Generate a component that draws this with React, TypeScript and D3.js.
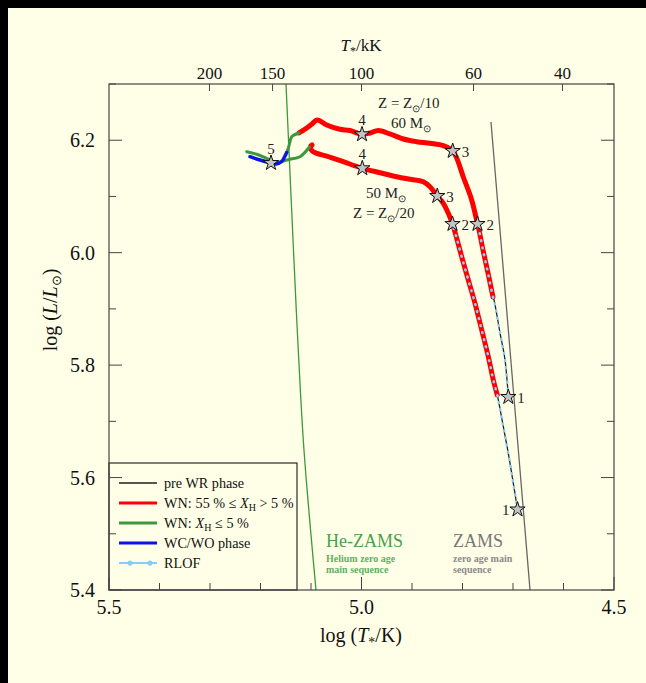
import React from "react";
import * as d3 from "d3";

type P = [number, number];

// ---- axis ticks ----
const xMajor = [5.5, 5.0, 4.5];
const xMinor = [5.4, 5.3, 5.2, 5.1, 4.9, 4.8, 4.7, 4.6];
const yMajor = [6.2, 6.0, 5.8, 5.6, 5.4];
const yMinor = [6.3, 6.1, 5.9, 5.7, 5.5];
const topTicksKK = [200, 150, 100, 60, 40];

// ---- reference lines ----
const zams: P[] = [[4.7436, 6.2324], [4.6663, 5.4]];
const heZams: P[] = [[5.1495, 6.3], [5.1356, 6.0226], [5.1257, 5.8358], [5.1139, 5.649], [5.0901, 5.4]];

// ---- 60 Msun, Z = Zsun/10 ----
const preWR60: P[] = [[4.7093, 5.7433], [4.7158, 5.8091], [4.7257, 5.8571], [4.7376, 5.9158], [4.7396, 5.9211]];
const red60: P[] = [
  [4.7396, 5.9211], [4.7495, 5.9638], [4.7594, 6.0047], [4.7673, 6.0403], [4.7703, 6.051],
  [4.7818, 6.0937], [4.7984, 6.1346], [4.8115, 6.1684], [4.8194, 6.1808], [4.838, 6.1903],
  [4.8644, 6.1945], [4.8907, 6.1974], [4.9172, 6.2022], [4.9436, 6.2111], [4.9667, 6.2173],
  [4.9832, 6.2129], [4.999, 6.2105], [5.0228, 6.2173], [5.0426, 6.2194], [5.0689, 6.2271],
  [5.0875, 6.236], [5.098, 6.2289], [5.1099, 6.2209], [5.1238, 6.2129],
];
const green60: P[] = [[5.1238, 6.2129], [5.1382, 6.2063], [5.1416, 6.1974], [5.145, 6.1856], [5.1481, 6.1782]];
const blue60: P[] = [[5.1481, 6.1782], [5.1525, 6.1702], [5.158, 6.1622], [5.1693, 6.1577], [5.1792, 6.1595], [5.201, 6.1648], [5.2208, 6.1707]];
const rlof60End = 5; // RLOF lasts up to star 2 (index in red60)

// ---- 50 Msun, Z = Zsun/20 ----
const preWR50: P[] = [[4.6911, 5.5432], [4.6994, 5.5898], [4.7093, 5.6431], [4.7192, 5.6905], [4.7277, 5.7321], [4.7311, 5.7468]];
const red50: P[] = [
  [4.7311, 5.7468], [4.739, 5.7735], [4.7489, 5.815], [4.762, 5.8625], [4.7752, 5.9099],
  [4.7885, 5.9514], [4.8016, 5.9928], [4.8115, 6.0256], [4.8198, 6.051], [4.8281, 6.07],
  [4.838, 6.0878], [4.8499, 6.1008], [4.8644, 6.1173], [4.8776, 6.1262], [4.904, 6.1305],
  [4.9303, 6.1351], [4.9634, 6.1422], [4.9984, 6.1501], [5.036, 6.1618], [5.0689, 6.1719],
  [5.0887, 6.1767], [5.0986, 6.1817], [5.101, 6.1888], [5.098, 6.1915],
];
const green50: P[] = [[5.103, 6.1879], [5.1218, 6.1707], [5.1416, 6.1661], [5.1481, 6.1648], [5.1679, 6.1607], [5.1877, 6.1678], [5.2075, 6.175], [5.2273, 6.1796]];
const rlof50End = 9;

// ---- stars ----
const stars60: { label: string; p: P; pos: string }[] = [
  { label: "1", p: [4.7093, 5.7433], pos: "right" },
  { label: "2", p: [4.7703, 6.051], pos: "right" },
  { label: "3", p: [4.8194, 6.1808], pos: "right" },
  { label: "4", p: [4.999, 6.2105], pos: "top" },
];
const stars50: { label: string; p: P; pos: string }[] = [
  { label: "1", p: [4.6911, 5.5432], pos: "left" },
  { label: "2", p: [4.8198, 6.051], pos: "right" },
  { label: "3", p: [4.8499, 6.1008], pos: "right" },
  { label: "4", p: [4.9984, 6.1501], pos: "top" },
  { label: "5", p: [5.1792, 6.1595], pos: "top" },
];

const legendItems = ["pre WR phase", "WN55", "WNlow", "WC/WO phase", "RLOF"];

const C = {
  bg: "#ffffe8",
  axis: "#444",
  red: "#ff0000",
  green: "#3c983c",
  blue: "#0a14e6",
  lblue: "#88ccf8",
  pre: "#555",
  heText: "#4aa04a",
  zText: "#777",
};

const FONT = "'Liberation Serif', 'Times New Roman', serif";

export default function App() {
  const L = 109, R = 614, T = 84, B = 590;
  const x = d3.scaleLinear().domain([5.5, 4.5]).range([L, R]);
  const y = d3.scaleLinear().domain([5.4, 6.3]).range([B, T]);
  const line = d3.line<P>().x((d) => x(d[0])).y((d) => y(d[1])).curve(d3.curveCatmullRom.alpha(0.5));
  const straight = d3.line<P>().x((d) => x(d[0])).y((d) => y(d[1]));
  const starPath = d3.symbol().type(d3.symbolStar).size(72)() as string;

  const rlof60 = [...preWR60.slice(0, -1), ...red60.slice(0, rlof60End)];
  const rlof50 = [...preWR50.slice(0, -1), ...red50.slice(0, rlof50End)];

  const starLabel = (s: { label: string; p: P; pos: string }, i: number) => {
    const sx = x(s.p[0]), sy = y(s.p[1]);
    let tx = sx + 9, ty = sy + 6, anchor: "start" | "end" | "middle" = "start";
    if (s.pos === "top") { tx = sx; ty = sy - 9; anchor = "middle"; }
    if (s.pos === "left") { tx = sx - 8; ty = sy + 6; anchor = "end"; }
    return (
      <g key={i}>
        <path d={starPath} transform={`translate(${sx},${sy})`} fill="#c4c4c4" stroke="#111" strokeWidth={1} />
        <text x={tx} y={ty} textAnchor={anchor} fontSize={15} fill="#222">{s.label}</text>
      </g>
    );
  };

  const legendY = (i: number) => 483 + i * 20;

  return (
    <svg width={646} height={683} style={{ position: "absolute", left: 0, top: 0 }} fontFamily={FONT}>
      <rect x={0} y={0} width={646} height={683} fill="#000" />
      <rect x={8} y={8} width={638} height={675} fill={C.bg} />
      <defs>
        <clipPath id="plotClip">
          <rect x={L} y={T} width={R - L} height={B - T} />
        </clipPath>
      </defs>

      {/* legend box */}
      <rect x={L} y={463} width={188} height={B - 463} fill={C.bg} stroke="#000" strokeWidth={1} />
      {legendItems.map((k, i) => {
        const yy = legendY(i);
        const col = [C.pre, C.red, C.green, C.blue, C.lblue][i];
        const w = [1.8, 3, 3, 3, 2][i];
        return (
          <g key={k}>
            <line x1={119} x2={157} y1={yy} y2={yy} stroke={col} strokeWidth={w} />
            {i === 4 && (
              <g>
                <circle cx={130} cy={yy} r={2.6} fill={C.lblue} />
                <circle cx={150} cy={yy} r={2.6} fill={C.lblue} />
              </g>
            )}
            <text x={164} y={yy + 5} fontSize={14.2} fill="#111">
              {i === 0 && "pre WR phase"}
              {i === 1 && (
                <>
                  {"WN:"}
                  <tspan dx={4}>{"55 % ≤ "}</tspan>
                  <tspan fontStyle="italic">X</tspan>
                  <tspan fontSize={10} dy={3}>H</tspan>
                  <tspan dy={-3}>{" > 5 %"}</tspan>
                </>
              )}
              {i === 2 && (
                <>
                  {"WN:"}
                  <tspan dx={4} fontStyle="italic">X</tspan>
                  <tspan fontSize={10} dy={3}>H</tspan>
                  <tspan dy={-3}>{" ≤ 5 %"}</tspan>
                </>
              )}
              {i === 3 && "WC/WO phase"}
              {i === 4 && "RLOF"}
            </text>
          </g>
        );
      })}

      <g clipPath="url(#plotClip)">
        {/* reference sequences */}
        <path d={straight(zams) as string} fill="none" stroke="#666" strokeWidth={1.3} />
        <path d={line(heZams) as string} fill="none" stroke={C.green} strokeWidth={1.3} />

        {/* 50 Msun track */}
        <path d={line(preWR50) as string} fill="none" stroke="#222" strokeWidth={1.3} />
        <path d={line(red50) as string} fill="none" stroke={C.red} strokeWidth={5} strokeLinecap="round" strokeLinejoin="round" />
        <path d={line(green50) as string} fill="none" stroke={C.green} strokeWidth={3} strokeLinecap="round" />
        <path d={line(rlof50) as string} fill="none" stroke={C.lblue} strokeWidth={2.6} strokeLinecap="round" strokeDasharray="0.8 6.4" />

        {/* 60 Msun track */}
        <path d={line(preWR60) as string} fill="none" stroke="#222" strokeWidth={1.3} />
        <path d={line(red60) as string} fill="none" stroke={C.red} strokeWidth={5} strokeLinecap="round" strokeLinejoin="round" />
        <path d={line(green60) as string} fill="none" stroke={C.green} strokeWidth={3} strokeLinecap="round" />
        <path d={line(blue60) as string} fill="none" stroke={C.blue} strokeWidth={3.5} strokeLinecap="round" />
        <path d={line(rlof60) as string} fill="none" stroke={C.lblue} strokeWidth={2.6} strokeLinecap="round" strokeDasharray="0.8 6.4" />
      </g>

      {stars60.map(starLabel)}
      {stars50.map((s, i) => starLabel(s, i + 10))}

      {/* annotations */}
      <text x={378} y={108} fontSize={15} fill="#222">
        {"Z = Z"}
        <tspan fontSize={10} dy={4}>⊙</tspan>
        <tspan dy={-4}>/10</tspan>
      </text>
      <text x={391} y={128} fontSize={15} fill="#222">
        {"60 M"}
        <tspan fontSize={10} dy={4}>⊙</tspan>
      </text>
      <text x={366} y={198} fontSize={15} fill="#222">
        {"50 M"}
        <tspan fontSize={10} dy={4}>⊙</tspan>
      </text>
      <text x={353} y={218} fontSize={15} fill="#222">
        {"Z = Z"}
        <tspan fontSize={10} dy={4}>⊙</tspan>
        <tspan dy={-4}>/20</tspan>
      </text>

      <text x={326} y={547} fontSize={18} fill={C.heText}>He-ZAMS</text>
      <text x={326} y={562} fontSize={10} fontWeight="bold" fill={C.heText} opacity={0.85}>Helium zero age</text>
      <text x={326} y={573} fontSize={10} fontWeight="bold" fill={C.heText} opacity={0.85}>main sequence</text>
      <text x={453} y={547} fontSize={18} fill={C.zText}>ZAMS</text>
      <text x={453} y={562} fontSize={10} fontWeight="bold" fill="#8a8a8a">zero age main</text>
      <text x={453} y={573} fontSize={10} fontWeight="bold" fill="#8a8a8a">sequence</text>

      {/* frame */}
      <rect x={L} y={T} width={R - L} height={B - T} fill="none" stroke={C.axis} strokeWidth={1.2} />

      {/* bottom & left/right ticks */}
      {xMajor.map((v) => (
        <g key={"xM" + v}>
          <line x1={x(v)} x2={x(v)} y1={B} y2={B - 13} stroke={C.axis} />
          <text x={x(v)} y={B + 24} textAnchor="middle" fontSize={20} fill="#111">{v.toFixed(1)}</text>
        </g>
      ))}
      {xMinor.map((v) => (
        <line key={"xm" + v} x1={x(v)} x2={x(v)} y1={B} y2={B - 7} stroke={C.axis} />
      ))}
      {yMajor.map((v) => (
        <g key={"yM" + v}>
          <line x1={L} x2={L + 13} y1={y(v)} y2={y(v)} stroke={C.axis} />
          <line x1={R} x2={R - 13} y1={y(v)} y2={y(v)} stroke={C.axis} />
          <text x={95} y={y(v) + 7} textAnchor="end" fontSize={20} fill="#111">{v.toFixed(1)}</text>
        </g>
      ))}
      {yMinor.map((v) => (
        <g key={"ym" + v}>
          <line x1={L} x2={L + 7} y1={y(v)} y2={y(v)} stroke={C.axis} />
          <line x1={R} x2={R - 7} y1={y(v)} y2={y(v)} stroke={C.axis} />
        </g>
      ))}

      {/* top axis in kK */}
      {topTicksKK.map((t) => {
        const xv = x(Math.log10(t * 1000));
        return (
          <g key={"t" + t}>
            <line x1={xv} x2={xv} y1={T} y2={T + 7} stroke={C.axis} />
            <text x={xv} y={79} textAnchor="middle" fontSize={17} fill="#111">{t}</text>
          </g>
        );
      })}
      <text x={361} y={51} textAnchor="middle" fontSize={17} fill="#111">
        <tspan fontStyle="italic">T</tspan>
        <tspan fontSize={12} dy={4}>*</tspan>
        <tspan dy={-4}>/kK</tspan>
      </text>

      {/* axis titles */}
      <text x={361} y={642} textAnchor="middle" fontSize={20} fill="#111">
        {"log ("}
        <tspan fontStyle="italic">T</tspan>
        <tspan fontSize={14} dy={5}>*</tspan>
        <tspan dy={-5}>/K)</tspan>
      </text>
      <text transform="translate(57,310) rotate(-90)" textAnchor="middle" fontSize={20} fill="#111">
        {"log ("}
        <tspan fontStyle="italic">L</tspan>
        {"/"}
        <tspan fontStyle="italic">L</tspan>
        <tspan fontSize={13} dy={4}>⊙</tspan>
        <tspan dy={-4}>)</tspan>
      </text>
    </svg>
  );
}
